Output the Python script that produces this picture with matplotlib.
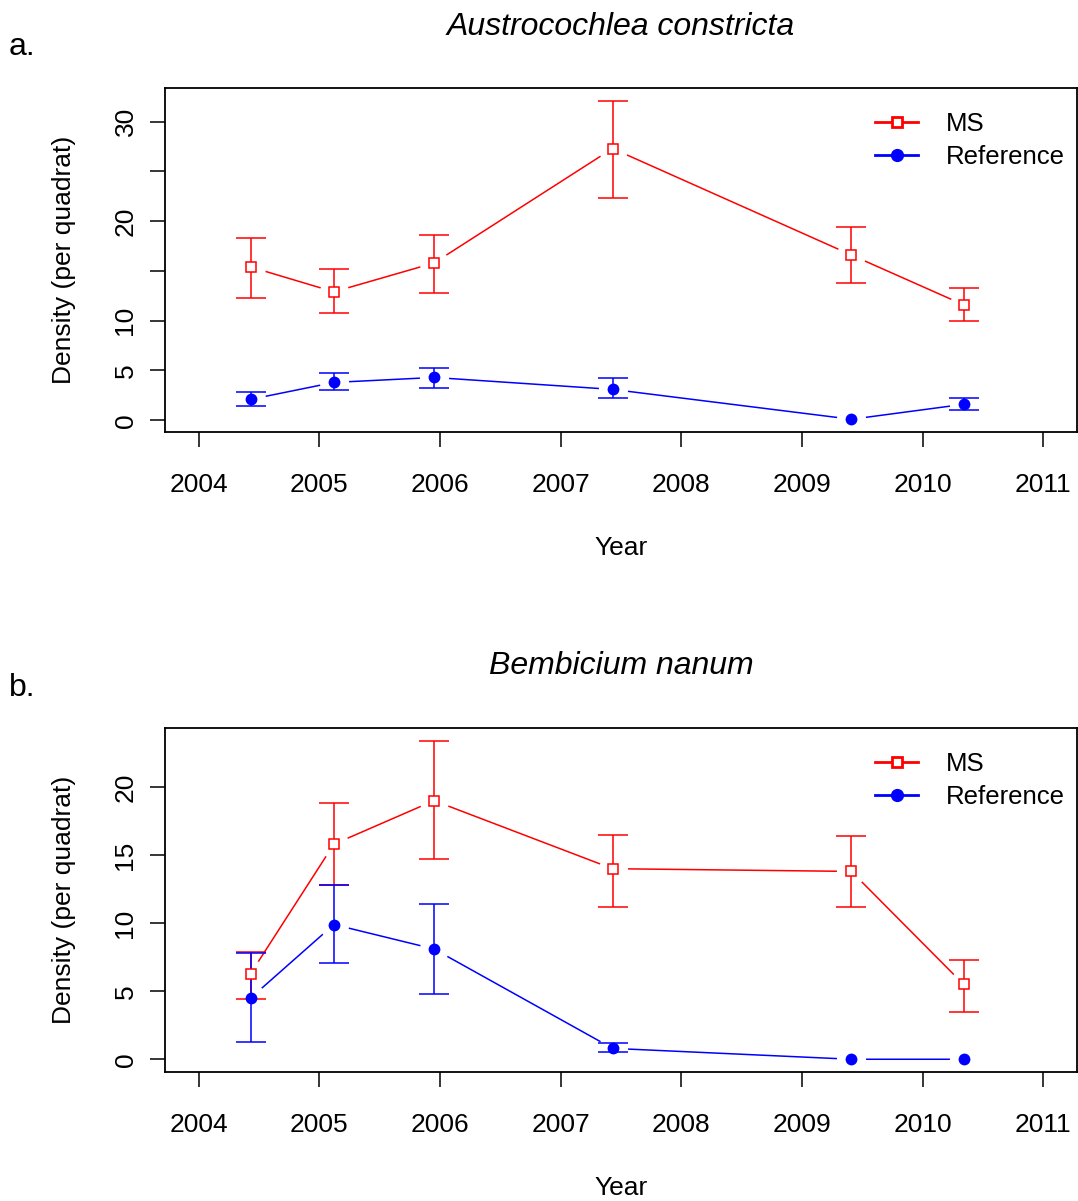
import numpy as np
import matplotlib.pyplot as plt
from matplotlib.lines import Line2D

plt.rcParams['font.family'] = ['Liberation Sans', 'DejaVu Sans']

# sampling times (decimal years)
years = [2004.43, 2005.12, 2005.95, 2007.43, 2009.41, 2010.34]
year_ticks = [2004, 2005, 2006, 2007, 2008, 2009, 2010, 2011]

# a. Austrocochlea constricta
a_ms = [15.4, 12.9, 15.8, 27.3, 16.6, 11.6]
a_ms_lo = [12.3, 10.8, 12.8, 22.3, 13.8, 10.0]
a_ms_hi = [18.3, 15.2, 18.6, 32.1, 19.4, 13.3]
a_ref = [2.1, 3.8, 4.3, 3.1, 0.1, 1.6]
a_ref_lo = [1.4, 3.0, 3.2, 2.2, 0.1, 1.0]
a_ref_hi = [2.8, 4.7, 5.3, 4.2, 0.1, 2.2]

# b. Bembicium nanum
b_ms = [6.3, 15.8, 19.0, 14.0, 13.8, 5.5]
b_ms_lo = [4.4, 12.8, 14.7, 11.2, 11.2, 3.5]
b_ms_hi = [7.9, 18.8, 23.4, 16.5, 16.4, 7.3]
b_ref = [4.5, 9.9, 8.1, 0.8, 0.0, 0.0]
b_ref_lo = [1.3, 7.1, 4.8, 0.5, 0.0, 0.0]
b_ref_hi = [7.8, 12.8, 11.4, 1.2, 0.0, 0.0]

panels = [
    ('a.', 'Austrocochlea constricta', a_ms, a_ms_lo, a_ms_hi, a_ref, a_ref_lo, a_ref_hi,
     [0, 5, 10, 15, 20, 25, 30], ['0', '5', '10', '', '20', '', '30']),
    ('b.', 'Bembicium nanum', b_ms, b_ms_lo, b_ms_hi, b_ref, b_ref_lo, b_ref_hi,
     [0, 5, 10, 15, 20], ['0', '5', '10', '15', '20']),
]

W, H = 1078, 1201
fig = plt.figure(figsize=(W / 100, H / 100), dpi=100)

FS = 19
LW = 1.1
ax_left, ax_w, ax_h = 165, 912, 344
ax_bottoms = [432, 1072]
title_y = [27, 666]
tag_y = [47, 688]


def r_range(lo, hi):
    pad = 0.04 * (hi - lo)
    return lo - pad, hi + pad


for i, (tag, title, ms, ms_lo, ms_hi, ref, ref_lo, ref_hi, yt, ytl) in enumerate(panels):
    b = ax_bottoms[i]
    ax = fig.add_axes([ax_left / W, 1 - b / H, ax_w / W, ax_h / H])
    x = np.array(years)
    series = [
        (np.array(ms), np.array(ms_lo), np.array(ms_hi), 'red', 's', 'white'),
        (np.array(ref), np.array(ref_lo), np.array(ref_hi), 'blue', 'o', 'blue'),
    ]
    # connecting lines (R type="b" leaves a gap round each point)
    for y, lo, hi, c, m, fc in series:
        ax.plot(x, y, color=c, lw=LW, zorder=2)
    for y, lo, hi, c, m, fc in series:
        ax.plot(x, y, ls='none', marker='o', ms=21, mfc='white', mec='none', zorder=2.1)
    for y, lo, hi, c, m, fc in series:
        keep = (hi - lo) > 0
        ax.errorbar(x[keep], y[keep], yerr=[y[keep] - lo[keep], hi[keep] - y[keep]],
                    fmt='none', ecolor=c, elinewidth=LW, capsize=11, capthick=LW, zorder=3)
        if m == 's':
            ax.plot(x, y, ls='none', marker=m, ms=7.5, mfc=fc, mec=c, mew=LW, zorder=4)
        else:
            ax.plot(x, y, ls='none', marker=m, ms=8.5, mfc=fc, mec=c, mew=0, zorder=4)

    ax.set_xlim(*r_range(2004, 2011))
    all_vals = np.concatenate([ms_lo, ms_hi, ref_lo, ref_hi])
    ax.set_ylim(*r_range(all_vals.min(), all_vals.max()))
    ax.set_xticks(year_ticks)
    ax.set_xticklabels([str(t) for t in year_ticks], fontsize=FS)
    ax.set_yticks(yt)
    ax.set_yticklabels(ytl, fontsize=FS, rotation=90, va='center')
    ax.tick_params(axis='both', direction='out', length=10.8, width=LW, color='black')
    ax.tick_params(axis='x', pad=19)
    ax.tick_params(axis='y', pad=9)
    for s in ax.spines.values():
        s.set_linewidth(1.3)

    ax.set_ylabel('Density (per quadrat)', fontsize=FS)
    ax.yaxis.set_label_coords(-0.098, 0.5)
    ax.set_xlabel('Year', fontsize=FS, va='top')
    ax.xaxis.set_label_coords(0.5, -0.303)

    handles = [
        Line2D([], [], color='red', lw=2, marker='s', ms=7.5, mfc='white', mec='red', mew=2),
        Line2D([], [], color='blue', lw=2, marker='o', ms=8.5, mfc='blue', mec='blue'),
    ]
    ax.legend(handles, ['MS', 'Reference'], loc='upper right',
              bbox_to_anchor=((1065 - ax_left) / ax_w, (ax_h - 24) / ax_h),
              frameon=False, fontsize=18.5, borderpad=0, borderaxespad=0,
              handlelength=1.65, handletextpad=1.1, labelspacing=0.35)

    fig.text(621 / W, 1 - title_y[i] / H, title, fontsize=23, style='italic',
             ha='center', va='center')
    fig.text(9 / W, 1 - tag_y[i] / H, tag, fontsize=23, ha='left', va='center')

fig.savefig('out.png', dpi=100)
